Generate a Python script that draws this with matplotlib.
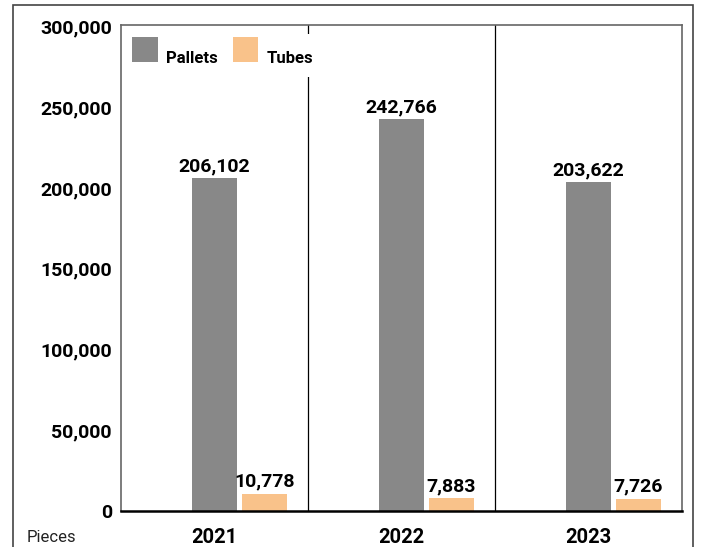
import matplotlib
matplotlib.use('Agg')
import matplotlib.pyplot as plt
from matplotlib.patches import Rectangle

plt.rcParams['font.family'] = ['Roboto', 'DejaVu Sans']

years = ['2021', '2022', '2023']
series = ['Pallets', 'Tubes']
pallets = [206102, 242766, 203622]
tubes = [10778, 7883, 7726]

gray = '#888888'
peach = '#F9C28A'

W, H = 702, 547
fig = plt.figure(figsize=(W / 100, H / 100), dpi=100)
ax = fig.add_axes([121 / W, 36 / H, 561 / W, 486 / H])

# outer frame around the whole chart (bottom edge runs off the canvas)
fig.patches.append(Rectangle((13 / W, -0.1), 680 / W, 1.1 - 5 / H,
                             transform=fig.transFigure, fill=False,
                             edgecolor='#444444', linewidth=1.2))

x = list(range(len(years)))
w = 0.24
off = 0.267
b1 = ax.bar(x, pallets, width=w, color=gray, zorder=2)
b2 = ax.bar([i + off for i in x], tubes, width=w, color=peach, zorder=2)

for bars, vals in ((b1, pallets), (b2, tubes)):
    for r, v in zip(bars, vals):
        ax.annotate(f'{v:,}', (r.get_x() + r.get_width() / 2, v),
                    xytext=(0, 5), textcoords='offset points',
                    ha='center', va='baseline', fontsize=14,
                    fontweight='bold', zorder=3)

# year separators
for xv in (0.5, 1.5):
    ax.axvline(xv, color='black', linewidth=0.9, zorder=1)

ax.set_xlim(-0.5, 2.5)
ax.set_ylim(0, 301000)
yt = list(range(0, 300001, 50000))
ax.set_yticks(yt)
ax.set_yticklabels([f'{t:,}' for t in yt], fontsize=14, fontweight='bold')
ax.tick_params(axis='y', length=0, pad=6.5)
ax.set_xticks(x)
ax.set_xticklabels(years, fontsize=14.5, fontweight='bold')
ax.tick_params(axis='x', length=0, pad=12)

for s in ('left', 'top', 'right'):
    ax.spines[s].set_color('#666666')
    ax.spines[s].set_linewidth(1.2)
ax.spines['bottom'].set_color('black')
ax.spines['bottom'].set_linewidth(1.8)

fig.text(27 / W, 1 - 537 / H, 'Pieces', fontsize=12, va='center', ha='left',
         color='#222222')


# legend: pixel boxes converted to axes fractions
def ax_xy(px, py):
    return (px - 121) / 561, (511 - py) / 486


x0, y0 = ax_xy(125, 77)
x1, y1 = ax_xy(312, 34)
ax.add_patch(Rectangle((x0, y0), x1 - x0, y1 - y0, transform=ax.transAxes,
                       facecolor='white', edgecolor='none', zorder=4))
for (l, r, tx), name, col in zip([(132, 158, 166), (233, 258, 267)], series,
                                 [gray, peach]):
    sx0, sy0 = ax_xy(l, 62)
    sx1, sy1 = ax_xy(r, 37)
    ax.add_patch(Rectangle((sx0, sy0), sx1 - sx0, sy1 - sy0,
                           transform=ax.transAxes, facecolor=col,
                           edgecolor='none', zorder=5))
    tx_, ty_ = ax_xy(tx, 63)
    ax.text(tx_, ty_, name, transform=ax.transAxes, ha='left', va='baseline',
            fontsize=12, fontweight='bold', zorder=6)

fig.savefig('out.png', dpi=100)
